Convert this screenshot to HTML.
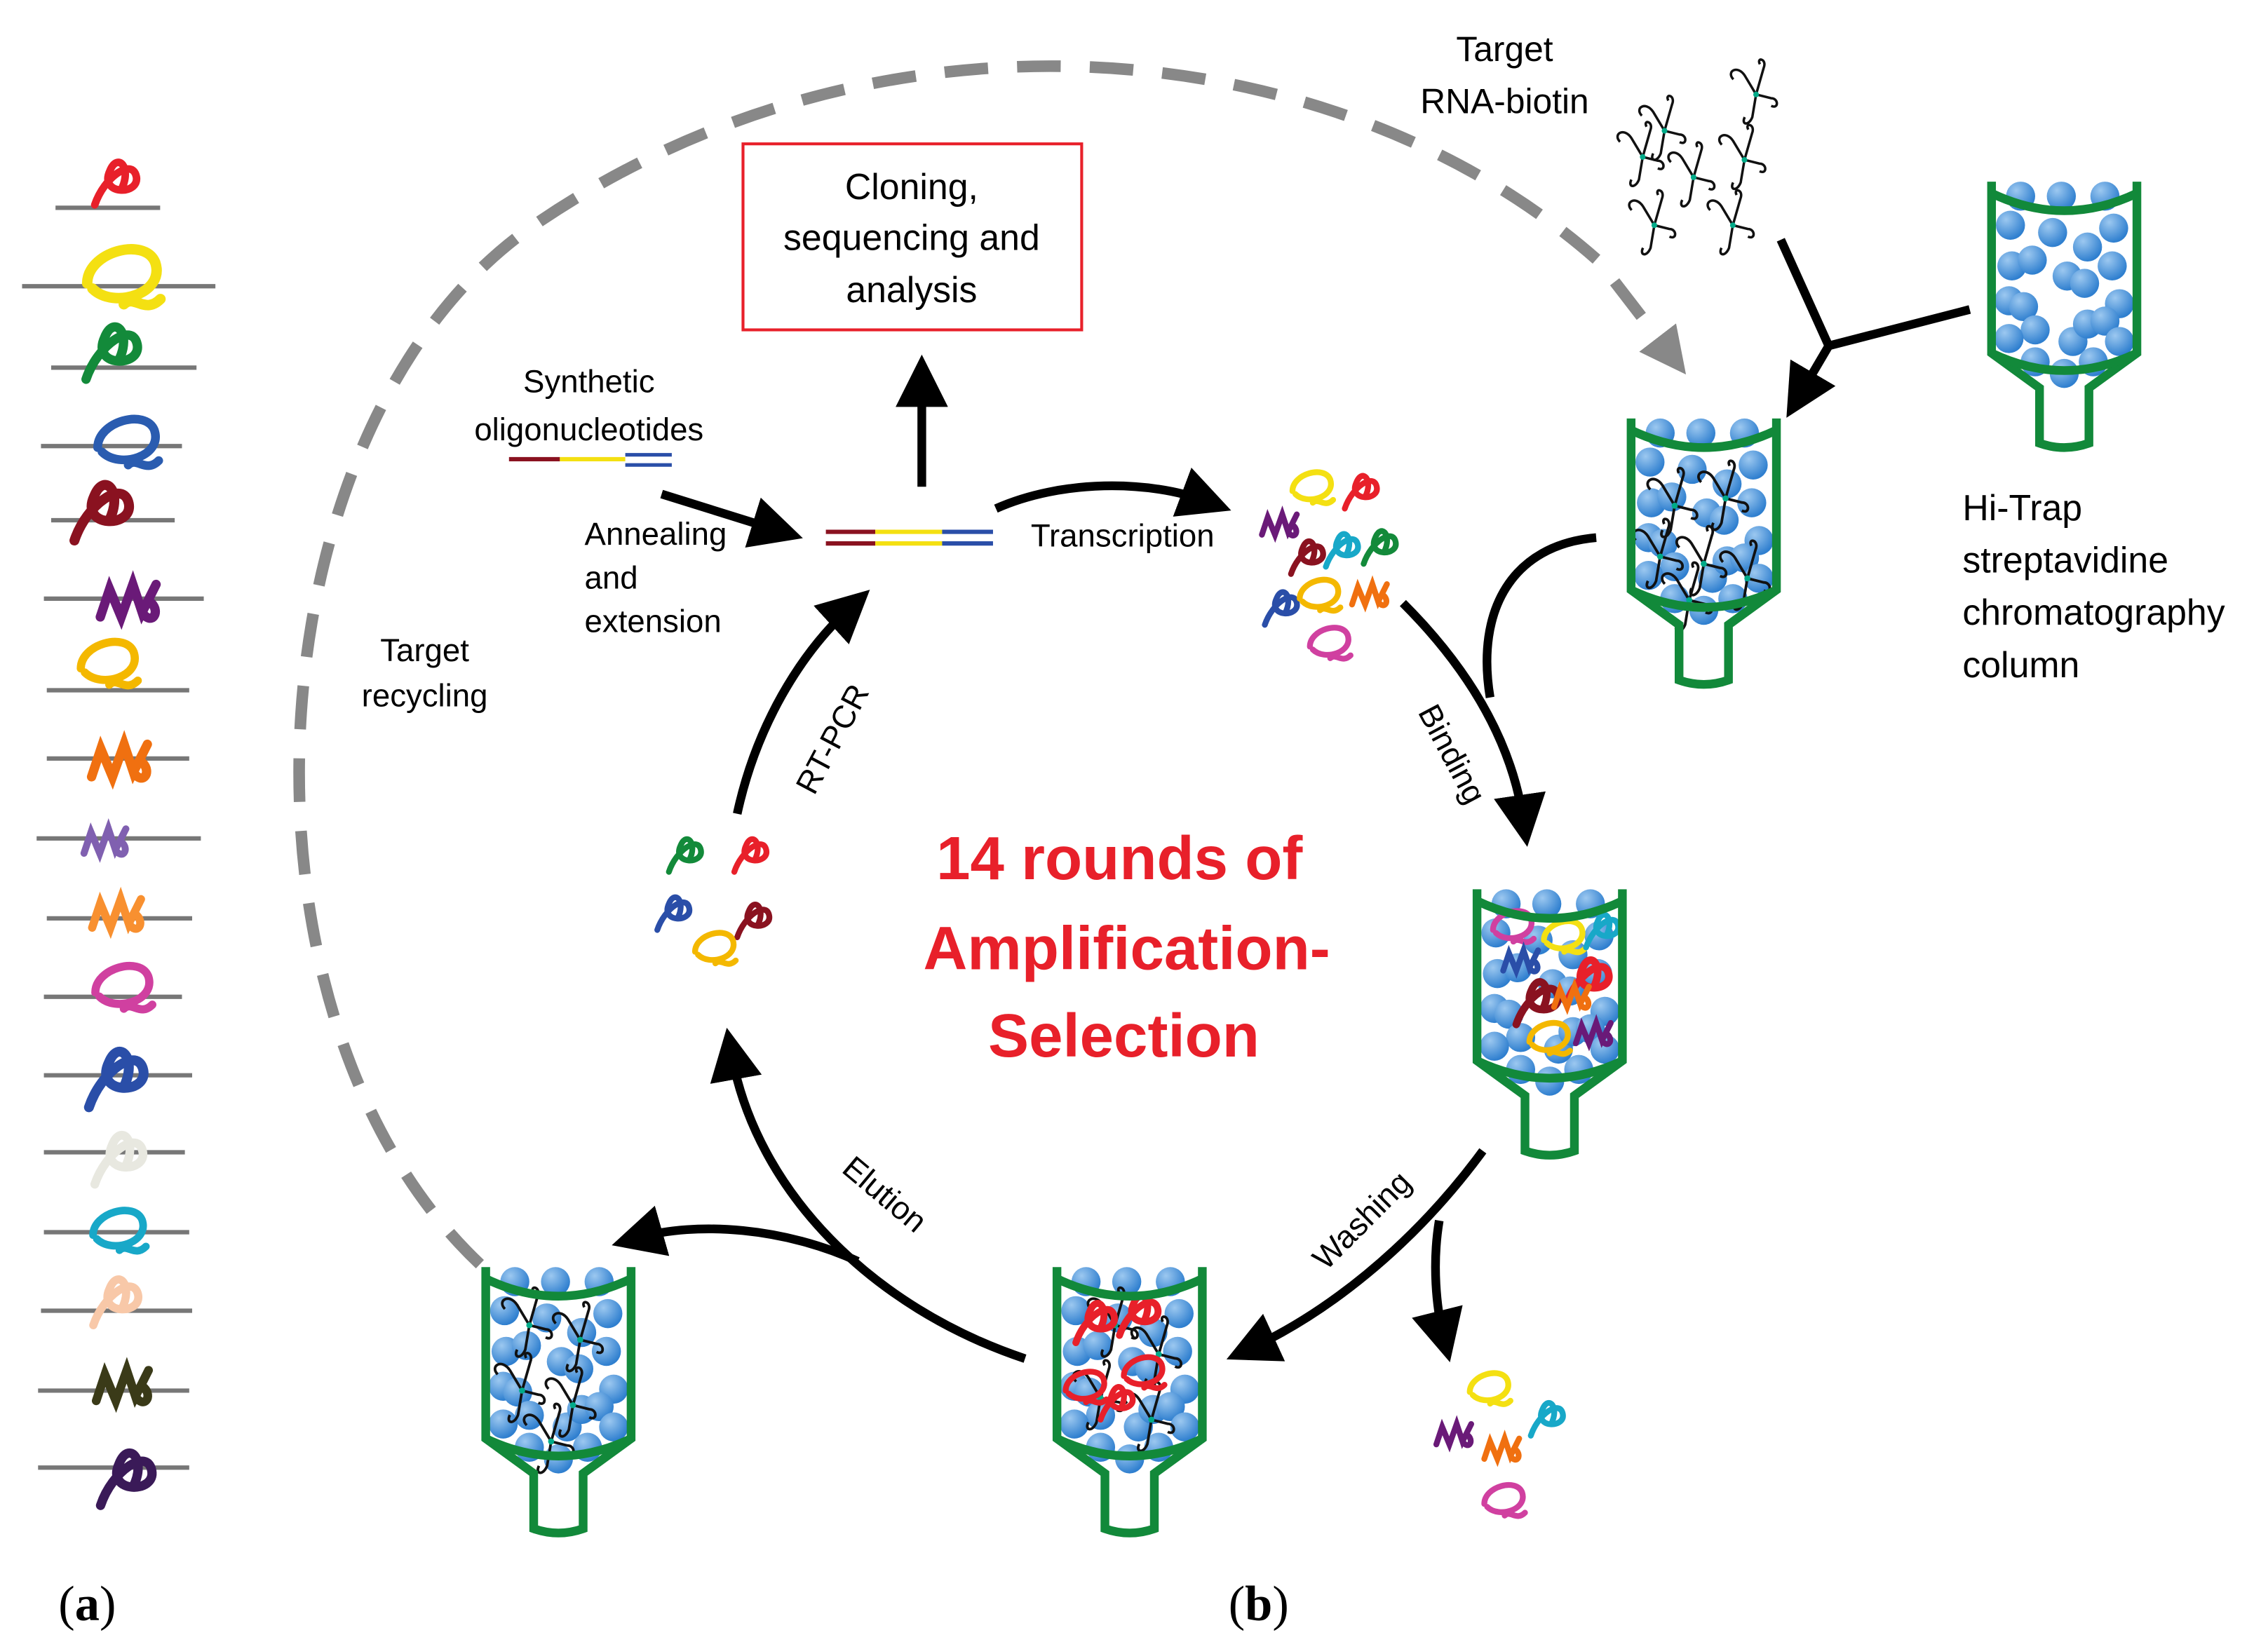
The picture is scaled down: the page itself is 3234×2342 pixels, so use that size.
<!DOCTYPE html>
<html><head><meta charset="utf-8"><style>
html,body{margin:0;padding:0;background:#fff}
svg{display:block}
text{font-family:"Liberation Sans","DejaVu Sans",sans-serif}
text.serif{font-family:"Liberation Serif","DejaVu Serif",serif}
</style></head><body>
<svg width="3234" height="2342" viewBox="0 0 1560 1130" xmlns="http://www.w3.org/2000/svg">
<defs>
<radialGradient id="bg" cx="0.35" cy="0.3" r="0.7"><stop offset="0" stop-color="#9cc8f0"/><stop offset="1" stop-color="#2f7fcf"/></radialGradient>
<marker id="ah" markerWidth="6" markerHeight="6" refX="3" refY="3" orient="auto" markerUnits="strokeWidth"><path d="M0,0 L6,3 L0,6 z" fill="#000"/></marker>
<marker id="ahg" markerWidth="4" markerHeight="4" refX="2" refY="2" orient="auto" markerUnits="strokeWidth"><path d="M0,0 L4,2 L0,4 z" fill="#888"/></marker>
<g id="balls">
<circle cx="20" cy="10" r="10" fill="url(#bg)"/><circle cx="48" cy="10" r="10" fill="url(#bg)"/><circle cx="78" cy="10" r="10" fill="url(#bg)"/>
<circle cx="13" cy="30" r="10" fill="url(#bg)"/><circle cx="42" cy="35" r="10" fill="url(#bg)"/><circle cx="84" cy="32" r="10" fill="url(#bg)"/><circle cx="66" cy="45" r="10" fill="url(#bg)"/>
<circle cx="14" cy="58" r="10" fill="url(#bg)"/><circle cx="28" cy="54" r="10" fill="url(#bg)"/><circle cx="52" cy="65" r="10" fill="url(#bg)"/><circle cx="64" cy="70" r="10" fill="url(#bg)"/><circle cx="83" cy="58" r="10" fill="url(#bg)"/>
<circle cx="12" cy="82" r="10" fill="url(#bg)"/><circle cx="22" cy="86" r="10" fill="url(#bg)"/><circle cx="88" cy="84" r="10" fill="url(#bg)"/>
<circle cx="30" cy="102" r="10" fill="url(#bg)"/><circle cx="56" cy="110" r="10" fill="url(#bg)"/><circle cx="66" cy="98" r="10" fill="url(#bg)"/><circle cx="78" cy="96" r="10" fill="url(#bg)"/>
<circle cx="12" cy="108" r="10" fill="url(#bg)"/><circle cx="88" cy="110" r="10" fill="url(#bg)"/>
<circle cx="30" cy="124" r="10" fill="url(#bg)"/><circle cx="50" cy="132" r="10" fill="url(#bg)"/><circle cx="70" cy="124" r="10" fill="url(#bg)"/>
</g>
<g id="col" fill="none" stroke="#12893a" stroke-width="6">
<path d="M0,0 L0,118 L33,142 L33,180 Q50,186 67,180 L67,142 L100,118 L100,0"/>
<path d="M0,8 Q50,32 100,8"/>
<path d="M0,118 Q50,142 100,118"/>
</g>
<g id="rna" fill="none" stroke="#111" stroke-width="1.3">
<path d="M0,0 l-6,-10 c-4,-6 -10,-2 -6,2 M0,0 l4,-14 c2,-5 -4,-6 -2,-2 M0,0 l8,2 c4,0 4,6 0,4 M0,0 l-2,12 c-2,5 -6,4 -4,0"/>
<circle cx="0" cy="0" r="1.5" fill="#0a8" stroke="none"/>
</g>
<path id="sq1" fill="none" stroke-width="4" stroke-linecap="round" d="M-10,10 C-5,-5 10,-15 12,-5 C14,5 -8,5 -2,-8 C2,-18 10,-10 4,2"/>
<path id="sq2" fill="none" stroke-width="4" stroke-linecap="round" d="M-14,0 C-14,-12 8,-18 12,-8 C16,4 -4,10 -12,2 M0,8 C4,4 8,12 14,6"/>
<path id="sq3" fill="none" stroke-width="4" stroke-linecap="round" d="M-12,6 L-8,-6 L-3,6 L2,-8 L6,4 L12,-8 M6,4 C10,10 14,4 10,0"/>
</defs>

<g stroke="#777" stroke-width="3">
<line x1="38" y1="143" x2="110" y2="143"/><line x1="15" y1="197" x2="148" y2="197"/><line x1="35" y1="253" x2="135" y2="253"/>
<line x1="28" y1="307" x2="125" y2="307"/><line x1="35" y1="358" x2="120" y2="358"/><line x1="30" y1="412" x2="140" y2="412"/>
<line x1="32" y1="475" x2="130" y2="475"/><line x1="32" y1="522" x2="130" y2="522"/><line x1="25" y1="577" x2="138" y2="577"/>
<line x1="32" y1="632" x2="132" y2="632"/><line x1="30" y1="686" x2="125" y2="686"/><line x1="30" y1="740" x2="132" y2="740"/>
<line x1="30" y1="793" x2="127" y2="793"/><line x1="30" y1="848" x2="130" y2="848"/><line x1="28" y1="902" x2="132" y2="902"/>
<line x1="26" y1="957" x2="130" y2="957"/><line x1="26" y1="1010" x2="130" y2="1010"/>
</g>
<use href="#sq1" stroke="#e8202a" transform="translate(78,128) scale(1.3)"/>
<use href="#sq2" stroke="#f4e012" transform="translate(85,195) scale(1.8)"/>
<use href="#sq1" stroke="#138a3a" transform="translate(75,245) scale(1.6)"/>
<use href="#sq2" stroke="#2a5cb0" transform="translate(88,308) scale(1.5)"/>
<use href="#sq1" stroke="#8a1220" transform="translate(68,355) scale(1.7)"/>
<use href="#sq3" stroke="#6a1a78" transform="translate(88,415) scale(1.6)"/>
<use href="#sq2" stroke="#f4b800" transform="translate(75,460) scale(1.4)"/>
<use href="#sq3" stroke="#f07010" transform="translate(82,525) scale(1.6)"/>
<use href="#sq3" stroke="#8060b0" transform="translate(72,580) scale(1.2)"/>
<use href="#sq3" stroke="#f89030" transform="translate(80,630) scale(1.4)"/>
<use href="#sq2" stroke="#d040a0" transform="translate(85,683) scale(1.4)"/>
<use href="#sq1" stroke="#2a4ea8" transform="translate(78,745) scale(1.7)"/>
<use href="#sq1" stroke="#e8e8e0" transform="translate(80,800) scale(1.5)"/>
<use href="#sq2" stroke="#18a8c8" transform="translate(82,850) scale(1.3)"/>
<use href="#sq1" stroke="#f8c8a8" transform="translate(78,898) scale(1.4)"/>
<use href="#sq3" stroke="#3a3a18" transform="translate(84,955) scale(1.5)"/>
<use href="#sq1" stroke="#3a1a58" transform="translate(85,1020) scale(1.6)"/>

<path d="M330,870 C150,700 170,300 360,160 C600,-10 920,20 1100,180 L1150,245" fill="none" stroke="#888" stroke-width="8" stroke-dasharray="30,20" marker-end="url(#ahg)"/>

<rect x="511" y="99" width="233" height="128" fill="#fff" stroke="#e8202a" stroke-width="2"/>
<text font-size="25" text-anchor="middle" fill="#000"><tspan x="627" y="137">Cloning,</tspan><tspan x="627" y="172">sequencing and</tspan><tspan x="627" y="208">analysis</tspan></text>

<g stroke="#000" stroke-width="6" fill="none">
<line x1="634" y1="335" x2="634" y2="262" marker-end="url(#ah)"/>
<line x1="455" y1="340" x2="535" y2="365" marker-end="url(#ah)"/>
<path d="M685,350 C730,330 790,330 830,345" marker-end="url(#ah)"/>
<path d="M965,415 C1010,460 1040,510 1048,565" marker-end="url(#ah)"/>
<path d="M1098,370 C1040,375 1015,420 1025,480"/>
<line x1="1225" y1="165" x2="1258" y2="238"/><line x1="1355" y1="213" x2="1258" y2="238"/>
<line x1="1258" y1="238" x2="1238" y2="272" marker-end="url(#ah)"/>
<path d="M1020,792 C970,860 910,905 860,928" marker-end="url(#ah)"/>
<path d="M990,840 C985,870 988,900 993,920" marker-end="url(#ah)"/>
<path d="M705,935 C600,900 520,820 503,725" marker-end="url(#ah)"/>
<path d="M590,868 C540,845 480,840 438,852" marker-end="url(#ah)"/>
<path d="M507,560 C520,500 550,450 585,418" marker-end="url(#ah)"/>
</g>

<line x1="350" y1="316" x2="385" y2="316" stroke="#8a1220" stroke-width="3"/>
<line x1="385" y1="316" x2="430" y2="316" stroke="#f4e012" stroke-width="3"/>
<line x1="430" y1="313" x2="462" y2="313" stroke="#2a4ea8" stroke-width="2.5"/>
<line x1="430" y1="320" x2="462" y2="320" stroke="#2a4ea8" stroke-width="2.5"/>
<line x1="568" y1="366" x2="602" y2="366" stroke="#8a1220" stroke-width="3"/><line x1="568" y1="374" x2="602" y2="374" stroke="#8a1220" stroke-width="3"/>
<line x1="602" y1="366" x2="648" y2="366" stroke="#f4e012" stroke-width="3"/><line x1="602" y1="374" x2="648" y2="374" stroke="#f4e012" stroke-width="3"/>
<line x1="648" y1="366" x2="683" y2="366" stroke="#2a4ea8" stroke-width="3"/><line x1="648" y1="374" x2="683" y2="374" stroke="#2a4ea8" stroke-width="3"/>

<g font-size="22" fill="#000">
<text x="405" y="270" text-anchor="middle">Synthetic</text>
<text x="405" y="303" text-anchor="middle">oligonucleotides</text>
<text x="402" y="375">Annealing</text><text x="402" y="405">and</text><text x="402" y="435">extension</text>
<text x="292" y="455" text-anchor="middle">Target</text><text x="292" y="486" text-anchor="middle">recycling</text>
<text x="709" y="376">Transcription</text>
<text x="1035" y="42" text-anchor="middle" font-size="24">Target</text>
<text x="1035" y="78" text-anchor="middle" font-size="24">RNA-biotin</text>
<text font-size="25"><tspan x="1350" y="358">Hi-Trap</tspan><tspan x="1350" y="394">streptavidine</tspan><tspan x="1350" y="430">chromatography</tspan><tspan x="1350" y="466">column</tspan></text>
<text transform="translate(975,490) rotate(62)">Binding</text>
<text transform="translate(912,875) rotate(-45)">Washing</text>
<text transform="translate(578,806) rotate(40)">Elution</text>
<text transform="translate(560,548) rotate(-62)">RT-PCR</text>
</g>
<g font-size="42" font-weight="bold" fill="#e8202a" text-anchor="middle">
<text x="770" y="605">14 rounds of</text>
<text x="775" y="667">Amplification-</text>
<text x="773" y="727">Selection</text>
</g>
<text class="serif" x="40" y="1115" font-size="34">(<tspan font-weight="bold">a</tspan>)</text>
<text class="serif" x="845" y="1115" font-size="34">(<tspan font-weight="bold">b</tspan>)</text>

<use href="#rna" transform="translate(1145,90) scale(1.3)"/><use href="#rna" transform="translate(1208,65) scale(1.3)"/>
<use href="#rna" transform="translate(1130,108) scale(1.3)"/><use href="#rna" transform="translate(1165,122) scale(1.3)"/>
<use href="#rna" transform="translate(1200,110) scale(1.3)"/><use href="#rna" transform="translate(1138,155) scale(1.3)"/>
<use href="#rna" transform="translate(1192,155) scale(1.3)"/>

<g transform="translate(1370,125)"><use href="#balls"/><use href="#col"/></g>
<g transform="translate(1122,288)"><use href="#balls"/>
<use href="#rna" transform="translate(30,60) scale(1.4)"/><use href="#rna" transform="translate(65,55) scale(1.4)"/><use href="#rna" transform="translate(20,95) scale(1.4)"/><use href="#rna" transform="translate(50,100) scale(1.4)"/><use href="#rna" transform="translate(80,110) scale(1.4)"/><use href="#rna" transform="translate(40,125) scale(1.4)"/>
<use href="#col"/></g>
<g transform="translate(1016,612)"><use href="#balls"/>
<use href="#sq2" stroke="#d040a0" transform="translate(25,28)"/><use href="#sq2" stroke="#f4e012" transform="translate(60,35)"/><use href="#sq1" stroke="#e8202a" transform="translate(75,65) scale(1.3)"/>
<use href="#sq3" stroke="#2a4ea8" transform="translate(30,50)"/><use href="#sq1" stroke="#8a1220" transform="translate(40,80) scale(1.3)"/><use href="#sq3" stroke="#f07010" transform="translate(65,75)"/>
<use href="#sq3" stroke="#6a1a78" transform="translate(80,100)"/><use href="#sq2" stroke="#f4b800" transform="translate(50,105)"/><use href="#sq1" stroke="#18a8c8" transform="translate(85,30)"/>
<use href="#col"/></g>
<g transform="translate(727,872)"><use href="#balls"/>
<use href="#rna" transform="translate(40,40) scale(1.4)"/><use href="#rna" transform="translate(70,60) scale(1.4)"/><use href="#rna" transform="translate(30,90) scale(1.4)"/><use href="#rna" transform="translate(65,105) scale(1.4)"/>
<use href="#sq1" stroke="#e8202a" transform="translate(25,40) scale(1.2)"/><use href="#sq1" stroke="#e8202a" transform="translate(55,35) scale(1.2)"/><use href="#sq2" stroke="#e8202a" transform="translate(20,85)"/><use href="#sq1" stroke="#e8202a" transform="translate(40,95)"/><use href="#sq2" stroke="#e8202a" transform="translate(60,75)"/>
<use href="#col"/></g>
<g transform="translate(334,872)"><use href="#balls"/>
<use href="#rna" transform="translate(30,40) scale(1.4)"/><use href="#rna" transform="translate(65,50) scale(1.4)"/><use href="#rna" transform="translate(25,85) scale(1.4)"/><use href="#rna" transform="translate(60,95) scale(1.4)"/><use href="#rna" transform="translate(45,120) scale(1.4)"/>
<use href="#col"/></g>

<use href="#sq2" stroke="#f4e012" transform="translate(903,338)"/>
<use href="#sq1" stroke="#e8202a" transform="translate(935,340)"/>
<use href="#sq3" stroke="#6a1a78" transform="translate(880,362)"/>
<use href="#sq1" stroke="#8a1220" transform="translate(898,385)"/>
<use href="#sq1" stroke="#18a8c8" transform="translate(922,380)"/>
<use href="#sq1" stroke="#138a3a" transform="translate(948,378)"/>
<use href="#sq1" stroke="#2a4ea8" transform="translate(880,420)"/>
<use href="#sq2" stroke="#f4b800" transform="translate(908,412)"/>
<use href="#sq3" stroke="#f07010" transform="translate(942,410)"/>
<use href="#sq2" stroke="#d040a0" transform="translate(915,445)"/>

<use href="#sq1" stroke="#138a3a" transform="translate(470,590)"/>
<use href="#sq1" stroke="#e8202a" transform="translate(515,590)"/>
<use href="#sq1" stroke="#2a4ea8" transform="translate(462,630)"/>
<use href="#sq1" stroke="#8a1220" transform="translate(517,635)"/>
<use href="#sq2" stroke="#f4b800" transform="translate(492,655)"/>

<use href="#sq2" stroke="#f4e012" transform="translate(1025,958)"/>
<use href="#sq3" stroke="#6a1a78" transform="translate(1000,988)"/>
<use href="#sq3" stroke="#f07010" transform="translate(1033,998)"/>
<use href="#sq1" stroke="#18a8c8" transform="translate(1063,978)"/>
<use href="#sq2" stroke="#d040a0" transform="translate(1035,1035)"/>
</svg>
</body></html>
